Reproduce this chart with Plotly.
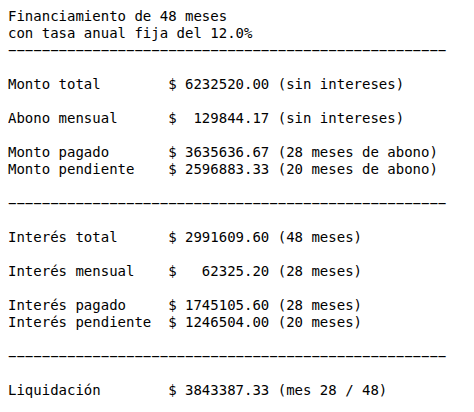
import plotly.graph_objects as go

plazo_meses = 48
tasa_anual = 12.0
meses_pagados = 28

labels = ["Monto total", "Abono mensual", "Monto pagado", "Monto pendiente",
          "Interés total", "Interés mensual", "Interés pagado", "Interés pendiente",
          "Liquidación"]
values = [6232520.00, 129844.17, 3635636.67, 2596883.33,
          2991609.60, 62325.20, 1745105.60, 1246504.00,
          3843387.33]
notes = ["sin intereses", "sin intereses", "28 meses de abono", "20 meses de abono",
         "48 meses", "28 meses", "28 meses", "20 meses",
         "mes 28 / 48"]

SEP = "\u2212" * 52


def row(i):
    return f"{labels[i]:<19}$ {values[i]:>10.2f} ({notes[i]})"


lines = [
    f"Financiamiento de {plazo_meses} meses",
    f"con tasa anual fija del {tasa_anual:.1f}%",
    SEP, "",
    row(0), "",
    row(1), "",
    row(2), row(3), "",
    SEP, "",
    row(4), "",
    row(5), "",
    row(6), row(7), "",
    SEP, "",
    row(8),
]

texts = [t.replace(" ", "\u00a0") for t in lines]
ys = list(range(len(lines)))

fig = go.Figure(go.Scatter(
    x=[0] * len(lines), y=ys, mode="text", text=texts,
    textposition="middle right",
    textfont=dict(family="DejaVu Sans Mono", size=14, color="#000000"),
    hoverinfo="skip", showlegend=False,
))

TOP = 9.5
fig.update_layout(
    width=474, height=412,
    margin=dict(l=0, r=0, t=0, b=0),
    paper_bgcolor="white", plot_bgcolor="white",
    xaxis=dict(range=[0, 474], visible=False, fixedrange=True),
    yaxis=dict(range=[(412 - TOP) / 17, -TOP / 17], visible=False, fixedrange=True),
)

fig.write_html("out.html")
